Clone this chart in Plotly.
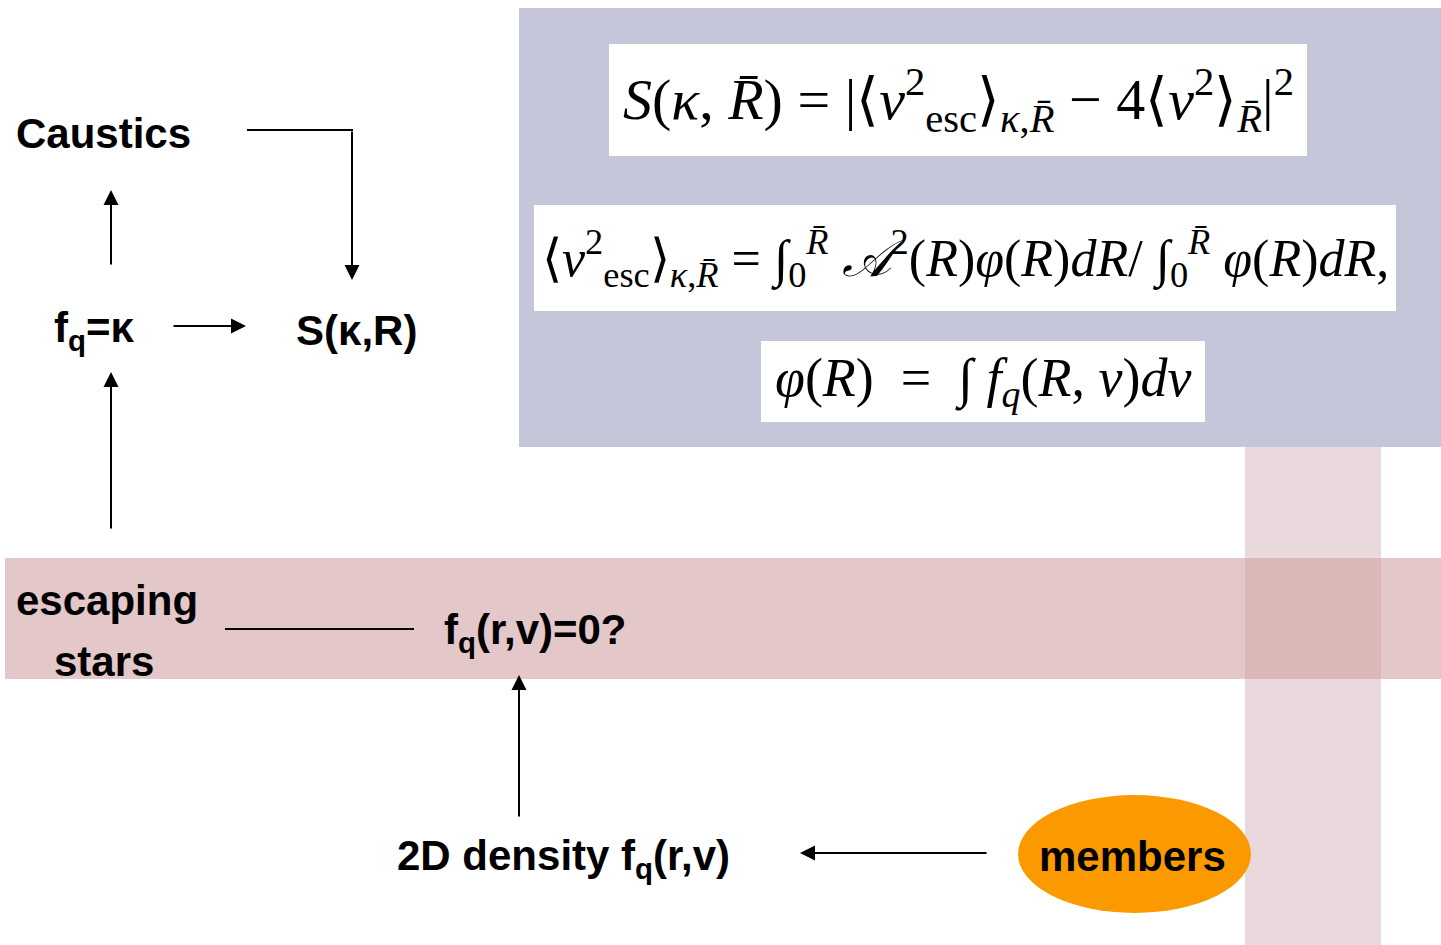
import plotly.graph_objects as go

# --- diagram content (pixel coordinates, y downward) ---
node_labels = ["Caustics", "f<sub>q</sub>=κ", "S(κ,R)", "escaping", "stars",
               "f<sub>q</sub>(r,v)=0?", "2D density f<sub>q</sub>(r,v)", "members"]
node_x = [14, 52, 294, 14, 52, 442, 395, 1037]
node_y = [133, 330, 330, 600, 661, 632, 858, 856]

formula_texts = [
    "<i>S</i>(<i>κ</i>, <i>R̄</i>) = |⟨<i>v</i><sup>2</sup><sub>esc</sub>⟩<sub><i>κ</i>,<i>R̄</i></sub> − 4⟨<i>v</i><sup>2</sup>⟩<sub><i>R̄</i></sub>|<sup>2</sup>",
    "⟨<i>v</i><sup>2</sup><sub>esc</sub>⟩<sub><i>κ</i>,<i>R̄</i></sub> = ∫<sub>0</sub><sup><i>R̄</i></sup> <i>𝒜</i><sup>2</sup>(<i>R</i>)<i>φ</i>(<i>R</i>)<i>dR</i>/ ∫<sub>0</sub><sup><i>R̄</i></sup> <i>φ</i>(<i>R</i>)<i>dR</i>,",
    "<i>φ</i>(<i>R</i>)  =  ∫ <i>f<sub>q</sub></i>(<i>R</i>, <i>v</i>)<i>dv</i>",
]
formula_box_x0 = [609, 534, 761]
formula_box_x1 = [1307, 1396, 1205]
formula_box_y0 = [44, 205, 341]
formula_box_y1 = [156, 311, 422]

# arrows: tail -> head
arrow_tail_x = [111, 111, 172, 519, 988, 352]
arrow_tail_y = [266, 530, 326, 818, 853, 130]
arrow_head_x = [111, 111, 246, 519, 800, 352]
arrow_head_y = [190, 372, 326, 675, 853, 280]

# plain connector lines (no head)
line_x0 = [225, 247]
line_y0 = [629, 130]
line_x1 = [414, 353]
line_y1 = [629, 130]

W, H = 1441, 945
fig = go.Figure()

shapes = []
# background panels
shapes.append(dict(type="rect", x0=519, x1=1441, y0=8, y1=447, fillcolor="#c5c6da", line_width=0, layer="below"))
shapes.append(dict(type="rect", x0=1245, x1=1381, y0=447, y1=945, fillcolor="#ead9dc", line_width=0, layer="below"))
shapes.append(dict(type="rect", x0=5, x1=1441, y0=558, y1=679, fillcolor="#e3c7c9", line_width=0, layer="below"))
shapes.append(dict(type="rect", x0=1245, x1=1381, y0=558, y1=679, fillcolor="#dbb7b8", line_width=0, layer="below"))
for i in range(len(formula_texts)):
    shapes.append(dict(type="rect", x0=formula_box_x0[i], x1=formula_box_x1[i],
                       y0=formula_box_y0[i], y1=formula_box_y1[i],
                       fillcolor="white", line_width=0, layer="below"))
# members ellipse
shapes.append(dict(type="circle", x0=1018, x1=1251, y0=795, y1=913, fillcolor="#fb9a00", line_width=0, layer="below"))
for i in range(len(line_x0)):
    shapes.append(dict(type="line", x0=line_x0[i], x1=line_x1[i], y0=line_y0[i], y1=line_y1[i],
                       line=dict(color="black", width=2)))

annotations = []
for lab, x, y in zip(node_labels, node_x, node_y):
    annotations.append(dict(x=x, y=y, text="<b>" + lab + "</b>", showarrow=False,
                            xanchor="left", yanchor="middle",
                            font=dict(family="Liberation Sans", size=42, color="black")))

formula_sizes = [58, 52, 54]
for i, t in enumerate(formula_texts):
    annotations.append(dict(x=(formula_box_x0[i] + formula_box_x1[i]) / 2,
                            y=(formula_box_y0[i] + formula_box_y1[i]) / 2,
                            text=t, showarrow=False, xanchor="center", yanchor="middle",
                            font=dict(family="Liberation Serif", size=formula_sizes[i], color="black")))

for tx, ty, hx, hy in zip(arrow_tail_x, arrow_tail_y, arrow_head_x, arrow_head_y):
    annotations.append(dict(x=hx, y=hy, ax=tx, ay=ty, xref="x", yref="y", axref="x", ayref="y",
                            text="", showarrow=True, arrowhead=2, arrowsize=1.5, arrowwidth=2,
                            arrowcolor="black", standoff=0, startstandoff=0))

fig.update_layout(
    width=W, height=H, margin=dict(l=0, r=0, t=0, b=0),
    paper_bgcolor="white", plot_bgcolor="white",
    xaxis=dict(range=[0, W], visible=False, fixedrange=True),
    yaxis=dict(range=[H, 0], visible=False, fixedrange=True),
    shapes=shapes, annotations=annotations, showlegend=False,
)

fig.write_html("out.html", config={"displayModeBar": False},
               post_script="document.body.style.margin='0';")
